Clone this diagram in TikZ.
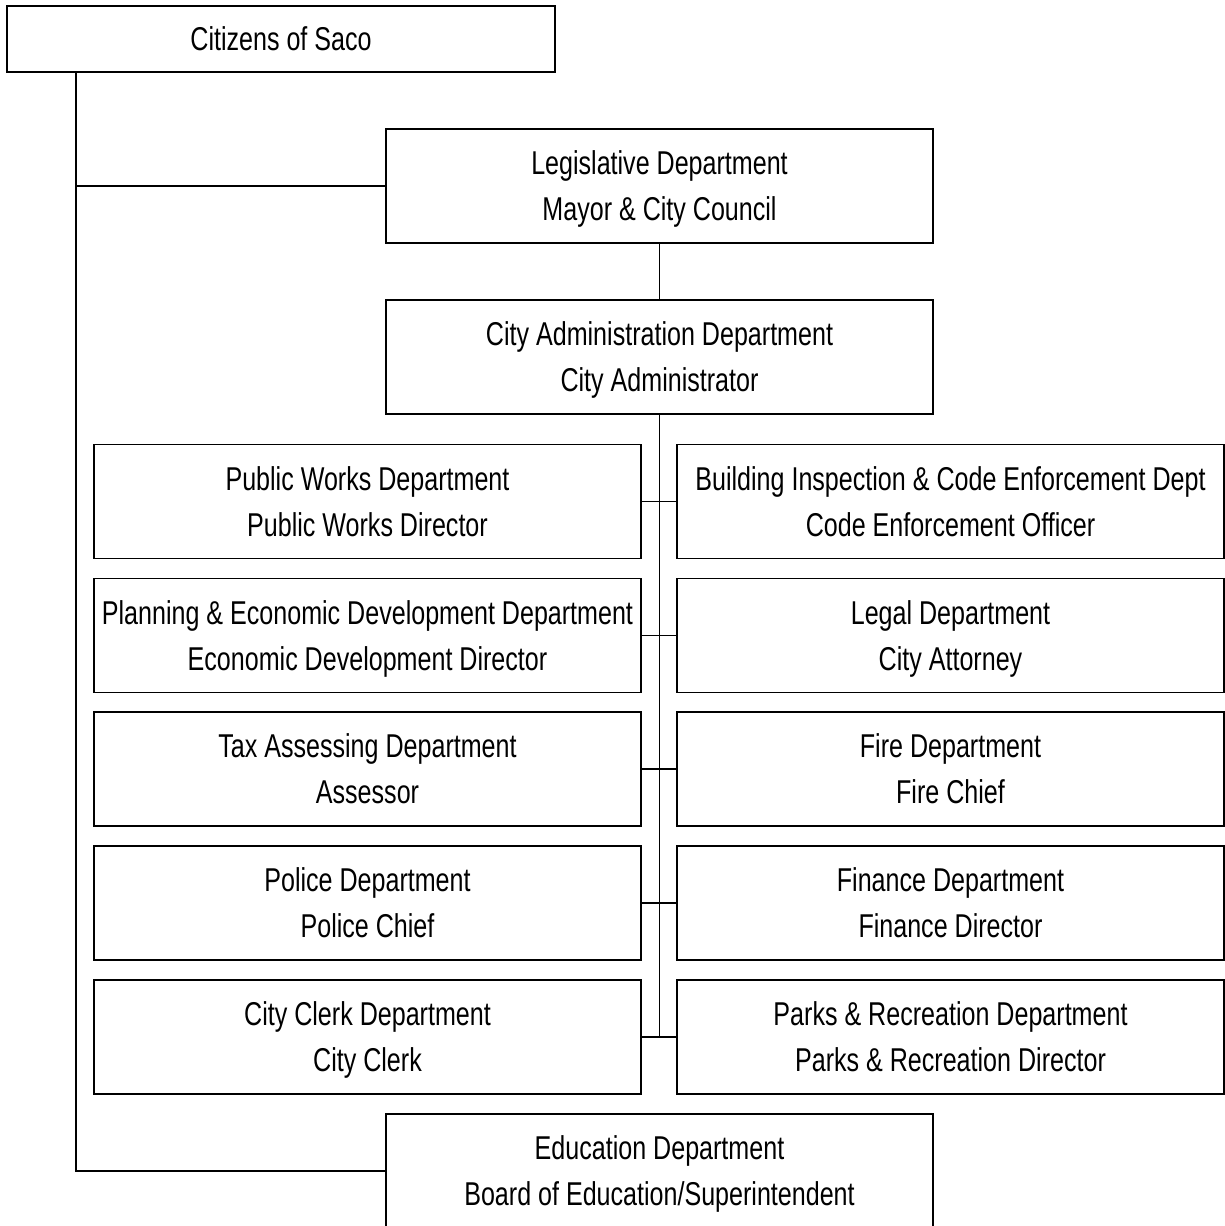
\documentclass[tikz,border=0pt]{standalone}
\usepackage{fontspec}
\setmainfont{Liberation Sans}[FakeStretch=0.76]

\begin{document}
\begin{tikzpicture}[x=0.5pt,y=-0.5pt]
		\tikzstyle{every node}+=[inner sep=0pt]
		\tikzstyle{dept}=[draw=black, line width=0.9pt, minimum width=273.5pt, minimum height=57pt, align=center, text depth=0pt, font=\fontsize{16.5}{23}\selectfont]
		\tikzstyle{link}=[draw=black, line width=0.9pt]
		\useasboundingbox (0,0) rectangle (1225,1226);
		\clip (0,0) rectangle (1225,1226);
		\node [dept, minimum width=274pt, minimum height=33pt] (citizens) at (281,39) {Citizens of Saco};
		\node [dept] (legis) at (659.5,186) {Legislative Department\\Mayor \& City Council};
		\node [dept] (admin) at (659.5,357) {City Administration Department\\City Administrator};
		\node [dept] (works) at (367.5,501.5) {Public Works Department\\Public Works Director};
		\node [dept] (codes) at (950.5,501.5) {Building Inspection \& Code Enforcement Dept\\Code Enforcement Officer};
		\node [dept] (planning) at (367.5,635.5) {Planning \& Economic Development Department\\Economic Development Director};
		\node [dept] (legal) at (950.5,635.5) {Legal Department\\City Attorney};
		\node [dept] (tax) at (367.5,769) {Tax Assessing Department\\Assessor};
		\node [dept] (fire) at (950.5,769) {Fire Department\\Fire Chief};
		\node [dept] (police) at (367.5,903) {Police Department\\Police Chief};
		\node [dept] (finance) at (950.5,903) {Finance Department\\Finance Director};
		\node [dept] (clerk) at (367.5,1037) {City Clerk Department\\City Clerk};
		\node [dept] (parks) at (950.5,1037) {Parks \& Recreation Department\\Parks \& Recreation Director};
		\node [dept] (educ) at (659.5,1171) {Education Department\\Board of Education/Superintendent};
		\coordinate (trunk) at (76,0);
		\draw [link] (citizens.south -| trunk) |- (legis.west);
		\draw [link] (citizens.south -| trunk) |- (educ.west);
		\draw [link] (legis.south) -- (admin.north);
		\draw [link] (admin.south) -- (admin.south |- clerk.east);
		\draw [link] (works.east) -- (codes.west);
		\draw [link] (planning.east) -- (legal.west);
		\draw [link] (tax.east) -- (fire.west);
		\draw [link] (police.east) -- (finance.west);
		\draw [link] (clerk.east) -- (parks.west);
\end{tikzpicture}
\end{document}
